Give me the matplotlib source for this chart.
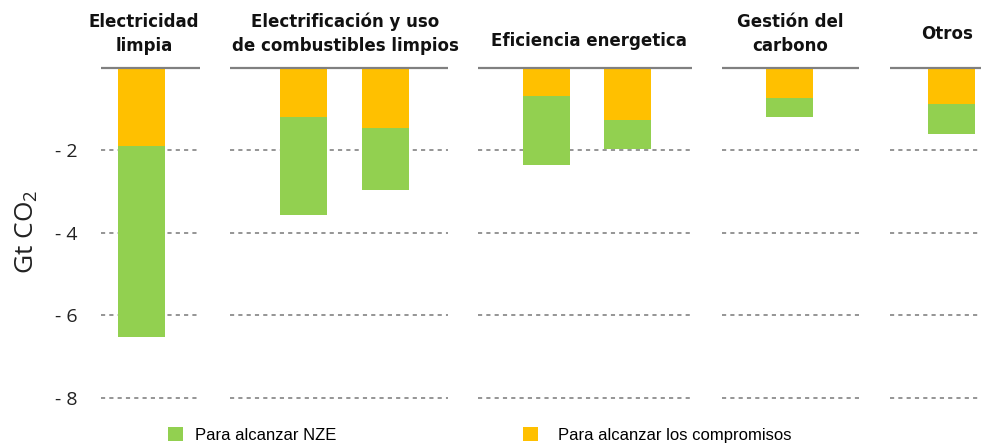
import matplotlib
matplotlib.use("Agg")
import matplotlib.pyplot as plt
from matplotlib.patches import Patch

# ---- data ----
groups = ["Electricidad\nlimpia", "Electrificación y uso\nde combustibles limpios",
          "Eficiencia energetica", "Gestión del\ncarbono", "Otros"]
bars_per_group = [1, 2, 2, 1, 1]
compromisos = [-1.90, -1.19, -1.45, -0.67, -1.26, -0.73, -0.87]   # yellow segment end
nze_total = [-6.52, -3.56, -2.95, -2.36, -1.97, -1.19, -1.61]     # green segment end
yticks = [-2, -4, -6, -8]
ytick_labels = ["- 2", "- 4", "- 6", "- 8"]
legend_labels = ["Para alcanzar NZE", "Para alcanzar los compromisos"]

# ---- layout (pixel-like x units) ----
seg_start = [101, 230, 478, 722, 890]
seg_end = [200, 448, 692, 859, 981]
bar_x = [141.5, 303.5, 385, 546.5, 627.5, 789.5, 951]
bar_w = 47
title_x = [144, 345, 589, 790, 947]
title_y = [34, 34, 41, 34, 34]

GREEN = "#92D050"
YELLOW = "#FFC000"
GRID = "#8c8c8c"

W, H = 981, 447
fig = plt.figure(figsize=(W / 100, H / 100), dpi=100)
top_px, bot_px = 68, 415
ax = fig.add_axes([101 / W, 1 - bot_px / H, (981 - 101) / W, (bot_px - top_px) / H])
px_per_unit = 41.2
ax.set_ylim(-(bot_px - top_px) / px_per_unit, 0)
ax.set_xlim(101, 981)

for s, e in zip(seg_start, seg_end):
    for yt in yticks:
        ax.hlines(yt, s, e, colors=GRID, linewidth=1.3, linestyles=(0, (2.3, 2.3)), zorder=1)

heights_green = [n - c for n, c in zip(nze_total, compromisos)]
ax.bar(bar_x, compromisos, width=bar_w, color=YELLOW, zorder=2)
ax.bar(bar_x, heights_green, bottom=compromisos, width=bar_w, color=GREEN, zorder=2)

for s, e in zip(seg_start, seg_end):
    ax.hlines(0, s, e, colors="#808080", linewidth=1.6, zorder=3, clip_on=False)

for sp in ax.spines.values():
    sp.set_visible(False)
ax.set_xticks([])
ax.set_yticks(yticks)
ax.set_yticklabels(ytick_labels, fontsize=14, family="Open Sans", color="#222222")
ax.tick_params(axis="y", length=0, pad=17)
ax.set_ylabel("Gt CO$_\\mathregular{2}$", fontsize=19, family="Open Sans", color="#222222")
ax.yaxis.set_label_coords(-(101 - 40) / 880, 1 - (232 - top_px) / (bot_px - top_px))

for name, tx, ty in zip(groups, title_x, title_y):
    fig.text(tx / W, 1 - ty / H, name, ha="center", va="center", fontsize=12,
             fontweight="bold", family="DejaVu Sans", linespacing=1.45, color="#111111")

leg_font = {"family": "Liberation Sans", "size": 12}
fig.legend([Patch(facecolor=GREEN)], [legend_labels[0]], loc="center left",
           bbox_to_anchor=(153 / W, 1 - 435 / H), frameon=False, prop=leg_font,
           handlelength=0.9, handleheight=0.9, handletextpad=0.7)
fig.legend([Patch(facecolor=YELLOW)], [legend_labels[1]], loc="center left",
           bbox_to_anchor=(508 / W, 1 - 435 / H), frameon=False, prop=leg_font,
           handlelength=0.9, handleheight=0.9, handletextpad=1.2)

fig.savefig("out.png", dpi=100)
